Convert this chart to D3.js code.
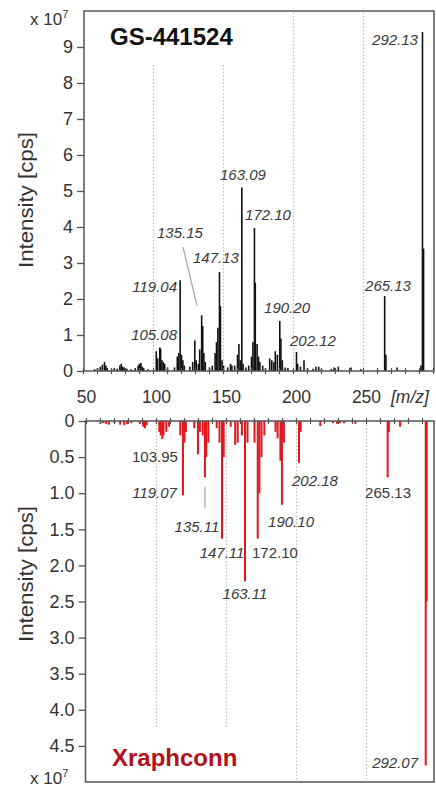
<!DOCTYPE html>
<html>
<head>
<meta charset="utf-8">
<script src="https://cdn.jsdelivr.net/npm/d3@7"></script>
<style>
  body { margin: 0; background: #fff; }
  svg { display: block; font-family: "Liberation Sans", Arial, sans-serif; }
</style>
</head>
<body>
<svg id="chart" width="436" height="787"></svg>
<script>
// m/z axis ticks (shared by both panels)
const mzTicks = [50, 100, 150, 200, 250]
const gridMz = [100, 150, 200, 250]

// GS-441524 reference spectrum: [m/z, intensity x 1e7]
const topPeaks = [
  [58, 0.05], [60, 0.08], [62, 0.12], [63.5, 0.18], [65, 0.25], [66, 0.15], [67, 0.08],
  [70, 0.05], [72, 0.08], [74, 0.06], [76, 0.15], [77, 0.2], [78, 0.12], [79, 0.1],
  [81, 0.06], [84, 0.05], [87, 0.08], [89, 0.15], [90, 0.2], [91, 0.22], [92, 0.12],
  [93, 0.08], [96, 0.05], [102, 0.55], [103, 0.35], [104.5, 0.65], [105.08, 0.62],
  [106, 0.3], [107, 0.25], [108, 0.2], [110, 0.1], [115, 0.1], [117, 0.4], [118, 0.5],
  [119.04, 2.52], [120, 0.45], [121, 0.3], [122, 0.15], [126, 0.12], [128, 0.25],
  [129.5, 0.85], [130.5, 0.3], [132, 0.2], [133, 0.6], [134.4, 1.55], [135.15, 1.25],
  [136, 0.5], [137, 0.25], [140, 0.1], [142, 0.15], [144, 0.5], [145, 0.8], [146, 1.2],
  [147.13, 2.75], [147.8, 1.8], [149, 0.3], [150, 0.15], [153, 0.1], [155, 0.2],
  [156, 0.15], [158, 0.15], [160, 0.45], [161, 0.75], [162, 0.3], [163.09, 5.1],
  [164, 0.2], [166, 0.1], [168, 0.15], [170, 0.4], [171, 0.8], [172.1, 3.97],
  [172.7, 2.45], [174, 0.75], [175, 0.4], [176, 0.25], [178, 0.15], [180, 0.08],
  [183, 0.35], [184.5, 0.3], [186, 0.25], [187, 0.55], [188.5, 0.45], [190.2, 1.39],
  [191, 0.9], [192, 0.3], [194, 0.1], [196, 0.08], [202.12, 0.53], [203, 0.2],
  [205, 0.12], [207.5, 0.3], [210, 0.08], [214, 0.06], [216, 0.12], [218, 0.12],
  [220, 0.06], [227, 0.06], [229, 0.1], [232, 0.12], [241, 0.1], [248, 0.05],
  [265.13, 2.08], [266, 0.45], [274, 0.1], [291, 0.15], [292.13, 9.42], [292.9, 3.4]
]

// Xraphconn spectrum: [m/z, intensity x 1e7]
const botPeaks = [
  [60, 0.04], [62, 0.03], [64, 0.04], [66, 0.05], [70, 0.03], [74, 0.05], [77, 0.06],
  [79, 0.04], [82, 0.03], [88, 0.04], [90.5, 0.08], [91.8, 0.1], [93, 0.06],
  [102, 0.15], [103, 0.2], [104.1, 0.25], [105, 0.2], [107, 0.15], [109, 0.08],
  [117, 0.2], [118.9, 1.03], [120, 0.3], [121, 0.15], [127, 0.1], [129.6, 0.46],
  [131, 0.15], [133, 0.2], [134.6, 0.78], [135.5, 0.5], [137, 0.3], [143, 0.1],
  [145, 0.3], [146.8, 1.63], [148, 0.5], [153, 0.08], [156.2, 0.33], [158, 0.3],
  [161, 0.2], [163.2, 2.22], [165, 0.3], [170, 0.3], [172.3, 1.63], [173.5, 1.0],
  [175, 0.5], [177, 0.2], [185, 0.15], [186.5, 0.24], [188.5, 0.55], [189.6, 1.16],
  [191, 0.3], [201.8, 0.58], [203, 0.15], [217, 0.07], [226, 0.03], [229, 0.04],
  [231, 0.03], [234, 0.03], [242, 0.04], [265.1, 0.78], [266, 0.15], [274, 0.08],
  [292.3, 4.77], [293, 2.5]
]

// peak annotations: [text, m/z, intensity at text baseline]
const topLabels = [
  ['292.13', 288.9, 9.06], ['265.13', 267.5, 2.22], ['202.12', 213.9, 0.69],
  ['190.20', 195.4, 1.61], ['172.10', 181.8, 4.19], ['163.09', 163.9, 5.31],
  ['147.13', 144.6, 3.0], ['135.15', 118.9, 3.69], ['119.04', 116.8, 2.19],
  ['105.08', 116.8, 0.86]
]
const botLabels = [
  ['103.95', 98.9, 0.57], ['119.07', 114.6, 1.07], ['135.11', 128.9, 1.54],
  ['147.11', 146.8, 1.9], ['172.10', 184.6, 1.9], ['190.10', 196.1, 1.47],
  ['202.18', 213.2, 0.9], ['265.13', 265.4, 1.07], ['163.11', 163.2, 2.47],
  ['292.07', 286.8, 4.81]
]
// leader lines: [m/z1, int1, m/z2, int2]
const topLeaders = [[121.1, 3.44, 131.1, 1.81]]
const botLeaders = [[134.6, 0.91, 134.6, 1.2]]

const topTicks = d3.range(0, 10)
const botTicks = d3.range(0, 5, 0.5)

// label styling
const rightAligned = ['292.13', '119.04', '105.08', '119.07', '292.07']
const upright = ['103.95', '172.10b', '265.13b']

const svg = d3.select('#chart')
const FRAME = '#555'
const TXT = '#333'

const xTop = d3.scaleLinear().domain([50, 300]).range([83.5, 433.5])
const xBot = d3.scaleLinear().domain([50, 300]).range([86.5, 436.5])
const yTop = d3.scaleLinear().domain([0, 10]).range([371, 11])
const yBot = d3.scaleLinear().domain([0, 5]).range([421, 782])

// gridlines (dotted)
const grid = svg.append('g')
  .attr('stroke', '#bdbdbd').attr('stroke-width', 1.2).attr('stroke-dasharray', '1.5,2')
grid.selectAll('.gt').data(gridMz).join('line')
  .attr('x1', d => xTop(d)).attr('x2', d => xTop(d))
  .attr('y1', yTop(0)).attr('y2', d => d < 200 ? yTop(8.55) : yTop(10))
grid.selectAll('.gb').data(gridMz).join('line')
  .attr('x1', d => xBot(d)).attr('x2', d => xBot(d))
  .attr('y1', yBot(0)).attr('y2', d => d < 200 ? yBot(4.24) : yBot(5))

// peaks
svg.append('g').selectAll('line').data(topPeaks).join('line')
  .attr('x1', d => xTop(d[0])).attr('x2', d => xTop(d[0]))
  .attr('y1', yTop(0)).attr('y2', d => yTop(d[1]))
  .attr('stroke', '#111').attr('stroke-width', 1.6)

svg.append('g').selectAll('line').data(botPeaks).join('line')
  .attr('x1', d => xBot(d[0])).attr('x2', d => xBot(d[0]))
  .attr('y1', yBot(0)).attr('y2', d => yBot(d[1]))
  .attr('stroke', '#e3161e').attr('stroke-width', 2)

// frames
svg.append('rect').attr('x', 84).attr('y', yTop(10)).attr('width', 350).attr('height', yTop(0) - yTop(10))
  .attr('fill', 'none').attr('stroke', FRAME).attr('stroke-width', 1.5)
svg.append('rect').attr('x', 85.5).attr('y', yBot(0)).attr('width', 348.5).attr('height', yBot(5) - yBot(0))
  .attr('fill', 'none').attr('stroke', FRAME).attr('stroke-width', 1.5)

// minor m/z ticks crossing the axis lines
const minor = d3.range(50, 301, 10)
svg.append('g').selectAll('line').data(minor).join('line')
  .attr('x1', d => xTop(d)).attr('x2', d => xTop(d))
  .attr('y1', yTop(0) - 3).attr('y2', yTop(0) + 3)
  .attr('stroke', FRAME).attr('stroke-width', 1.2)
svg.append('g').selectAll('line').data(minor).join('line')
  .attr('x1', d => xBot(d)).attr('x2', d => xBot(d))
  .attr('y1', yBot(0) - 3).attr('y2', yBot(0) + 3)
  .attr('stroke', FRAME).attr('stroke-width', 1.2)

// m/z labels between the panels
svg.append('g').selectAll('text').data(mzTicks).join('text')
  .attr('x', d => xBot(d)).attr('y', 403)
  .attr('text-anchor', 'middle').attr('font-size', 17.5).attr('fill', TXT)
  .text(d => d)
svg.append('text').attr('x', 391).attr('y', 403)
  .attr('font-size', 17.5).attr('font-style', 'italic').attr('fill', TXT)
  .text('[m/z]')

// y axes
const yAxisTop = svg.append('g').attr('transform', 'translate(84,0)')
  .call(d3.axisLeft(yTop).tickValues(topTicks).tickSize(7).tickPadding(4).tickFormat(d3.format('d')))
const yAxisBot = svg.append('g').attr('transform', 'translate(85.5,0)')
  .call(d3.axisLeft(yBot).tickValues(botTicks).tickSize(7).tickPadding(4)
    .tickFormat(d => d === 0 ? '0' : d3.format('.1f')(d)))
for (const g of [yAxisTop, yAxisBot]) {
  g.select('.domain').remove()
  g.selectAll('line').attr('stroke', FRAME).attr('stroke-width', 1.3)
  g.selectAll('text').attr('font-size', 18).attr('fill', TXT)
    .attr('font-family', '"Liberation Sans", Arial, sans-serif')
}

// exponents
const expo = (y) => {
  const t = svg.append('text').attr('x', 30).attr('y', y).attr('font-size', 17).attr('fill', TXT)
  t.append('tspan').text('x 10')
  t.append('tspan').attr('font-size', 11).attr('dy', -7).text('7')
}
expo(25)
expo(784)

// axis titles
const yTitle = (cy) => svg.append('text')
  .attr('transform', `translate(33,${cy}) rotate(-90)`)
  .attr('text-anchor', 'middle').attr('font-size', 20).attr('fill', TXT)
  .attr('textLength', 136).attr('lengthAdjust', 'spacingAndGlyphs')
  .text('Intensity [cps]')
yTitle(200)
yTitle(574)

// panel titles
svg.append('text').attr('x', 110).attr('y', 45).attr('font-size', 24).attr('font-weight', 'bold')
  .attr('fill', '#111').text('GS-441524')
svg.append('text').attr('x', 112).attr('y', 766).attr('font-size', 24).attr('font-weight', 'bold')
  .attr('fill', '#b3121a').text('Xraphconn')

// leaders
svg.append('g').selectAll('line').data(topLeaders).join('line')
  .attr('x1', d => xTop(d[0])).attr('y1', d => yTop(d[1]))
  .attr('x2', d => xTop(d[2])).attr('y2', d => yTop(d[3]))
  .attr('stroke', '#aaa').attr('stroke-width', 1.3)
svg.append('g').selectAll('line').data(botLeaders).join('line')
  .attr('x1', d => xBot(d[0])).attr('y1', d => yBot(d[1]))
  .attr('x2', d => xBot(d[2])).attr('y2', d => yBot(d[3]))
  .attr('stroke', '#aaa').attr('stroke-width', 1.3)

// peak labels
const drawLabels = (labels, x, y, suffix) => svg.append('g').selectAll('text').data(labels).join('text')
  .attr('x', d => x(d[1])).attr('y', d => y(d[2]))
  .attr('text-anchor', d => rightAligned.includes(d[0]) ? 'end' : 'middle')
  .attr('font-style', d => upright.includes(d[0]) || upright.includes(d[0] + suffix) ? 'normal' : 'italic')
  .attr('font-size', 15).attr('fill', '#3a3a3a')
  .text(d => d[0])
drawLabels(topLabels, xTop, yTop, 'a')
drawLabels(botLabels, xBot, yBot, 'b')
</script>
</body>
</html>
